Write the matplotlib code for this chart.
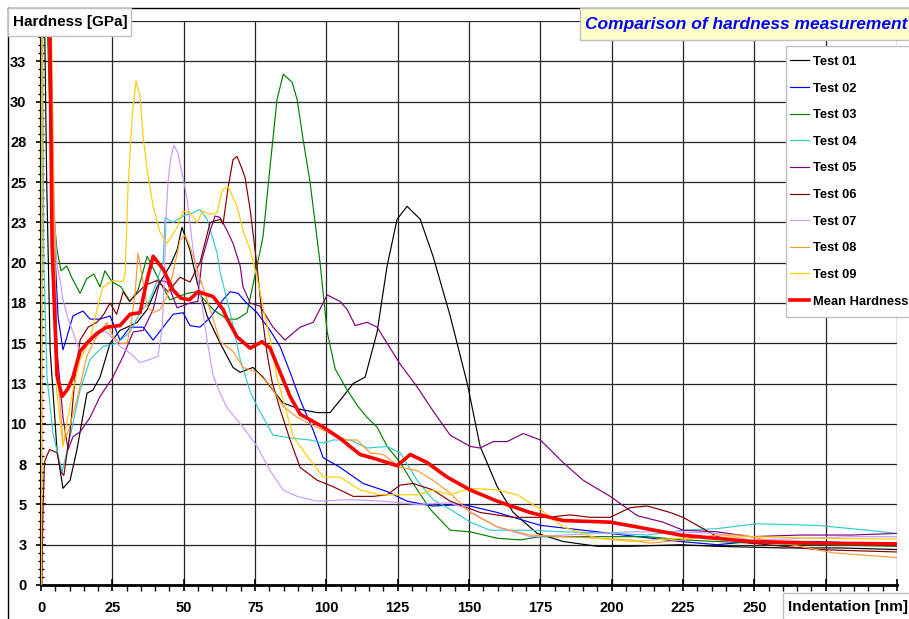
import matplotlib
matplotlib.use('Agg')
import matplotlib.pyplot as plt
from matplotlib.patches import Rectangle
from matplotlib.lines import Line2D
import numpy as np

plt.rcParams['font.family'] = ['Liberation Sans', 'DejaVu Sans']

# ---------------- data (indentation [nm], hardness [GPa]) ----------------
test01 = [(1.2, 36), (2.0, 25), (3.2, 14.6), (5.6, 8.4), (7.7, 6.0), (10.2, 6.5), (12.6, 8.4),
          (16.1, 11.9), (18.2, 12.1), (20.7, 12.9), (24.2, 15.0), (27.7, 15.8), (30.2, 16.0),
          (33.7, 16.3), (37.2, 17.1), (40.7, 18.5), (45.2, 19.8), (47.7, 20.8), (49.4, 22.2),
          (52.2, 20.8), (54.7, 18.8), (58.2, 16.7), (62.8, 15.0), (67.3, 13.5), (69.8, 13.2),
          (74.3, 13.5), (77.8, 12.9), (84.8, 11.3), (90.8, 10.9), (96.8, 10.7), (101.3, 10.7),
          (105.9, 11.7), (109.4, 12.5), (113.6, 12.9), (117.8, 15.7), (121.3, 19.8), (124.8, 22.7),
          (128.3, 23.5), (132.9, 22.7), (137.4, 20.4), (143.4, 16.7), (149.4, 12.5), (153.9, 8.6),
          (159.9, 6.1), (165.5, 4.5), (173.9, 3.2), (183, 2.7), (195, 2.4), (206.5, 2.4),
          (224, 2.5), (237, 2.4), (260, 2.3), (280, 2.3), (300, 2.2)]

test02 = [(3.0, 36), (4.5, 22), (6.0, 16.6), (7.7, 14.6), (9.1, 15.4), (11.2, 16.7), (14.7, 17.0),
          (17.2, 16.5), (20.7, 16.5), (24.2, 16.7), (27.7, 15.2), (31.2, 16.0), (35.8, 16.0),
          (39.3, 15.2), (42.8, 16.0), (46.3, 16.8), (49.8, 16.9), (52.2, 16.1), (55.7, 16.0),
          (59.3, 16.6), (63.8, 17.7), (66.3, 18.2), (69.1, 18.1), (71.5, 17.6), (75.7, 16.9),
          (80.3, 15.8), (83.8, 14.8), (87.3, 13.2), (90.8, 11.5), (95.4, 9.6), (98.9, 7.9),
          (104.8, 7.3), (112.9, 6.3), (121.3, 5.8), (128.3, 5.2), (137.4, 4.9), (148, 5.0),
          (159.9, 4.5), (175, 3.7), (195, 3.3), (209, 3.0), (224, 2.7), (237, 2.5), (248.6, 2.7),
          (272, 2.7), (300, 2.5)]

test03 = [(2.0, 36), (4.0, 24), (5.6, 20.8), (7.0, 19.5), (9.0, 19.8), (11.0, 19.0), (13.7, 18.1),
          (16.0, 19.0), (18.5, 19.3), (20.7, 18.5), (22.4, 19.5), (25.0, 18.8), (28.0, 18.5),
          (31.2, 17.6), (34.0, 18.3), (37.2, 20.4), (41.7, 18.8), (45.2, 17.7), (51.2, 18.1),
          (54.7, 18.2), (60.3, 17.1), (65.2, 16.5), (68.7, 16.5), (72.2, 16.9), (75.7, 19.8),
          (77.8, 21.6), (80.3, 26.0), (82.7, 30.1), (84.9, 31.7), (88.0, 31.2), (89.8, 30.1),
          (91.9, 27.6), (94.3, 25.0), (97.8, 20.0), (100.3, 15.7), (103.1, 13.4), (107.3, 12.1),
          (111.0, 11.1), (114.3, 10.4), (117.8, 9.8), (121.3, 8.6), (125.9, 7.6), (130.4, 6.3),
          (136.4, 4.7), (143.4, 3.4), (150.4, 3.3), (159.9, 2.9), (168, 2.8), (175, 3.0),
          (189, 3.0), (200.5, 3.0), (212.5, 3.0), (225, 2.8), (248.6, 2.6), (272, 2.5), (300, 2.4)]

test04 = [(0.5, 36), (1.0, 20), (2.1, 12.9), (4.2, 9.4), (7.4, 7.0), (10.2, 9.2), (13.7, 12.1),
          (17.2, 14.0), (21.7, 14.8), (26.6, 15.0), (31.2, 15.7), (34.7, 16.9), (38.2, 17.7),
          (40.7, 18.9), (42.8, 20.0), (43.5, 22.8), (46.3, 22.5), (49.8, 22.9), (53.3, 23.1),
          (55.7, 23.3), (58.2, 22.7), (61.7, 20.6), (62.8, 19.4), (66.3, 16.9), (69.8, 14.0),
          (73.3, 12.0), (75.7, 11.1), (81.3, 9.3), (88.4, 9.1), (94.3, 9.0), (98.9, 8.8),
          (102.4, 9.0), (108.3, 9.0), (114.3, 8.5), (121.3, 8.6), (125.9, 8.2), (131.8, 6.5),
          (137.4, 5.3), (143.4, 4.7), (150.4, 3.9), (157.4, 3.4), (171.4, 3.4), (183, 3.3),
          (200.5, 3.2), (212.5, 3.1), (225, 3.4), (237, 3.5), (251, 3.8), (272, 3.7),
          (289.6, 3.4), (300, 3.2)]

test05 = [(3.0, 36), (4.5, 22), (5.6, 14.6), (7.7, 10.4), (9.5, 8.4), (11.2, 9.2), (13.7, 9.5),
          (17.2, 10.4), (20.7, 11.7), (25.2, 12.9), (28.8, 14.2), (32.3, 15.7), (35.8, 15.8),
          (39.3, 17.1), (41.7, 18.9), (44.2, 18.8), (47.7, 17.2), (52.2, 17.5), (55.0, 17.6),
          (56.4, 20.2), (59.3, 22.0), (61.0, 22.9), (62.8, 22.8), (65.2, 22.0), (67.3, 21.2),
          (69.8, 19.8), (70.8, 18.5), (73.3, 17.5), (76.8, 17.3), (81.3, 16.0), (85.5, 15.2),
          (90.8, 16.0), (95.4, 16.3), (100.3, 18.0), (104.8, 17.6), (107.3, 17.1), (110.1, 16.1),
          (114.3, 16.3), (117.8, 16.0), (121.3, 15.0), (125.9, 13.7), (131.8, 12.3), (137.4, 10.8),
          (143.4, 9.3), (150.4, 8.6), (153.9, 8.5), (158.5, 8.9), (163.4, 8.9), (169, 9.4),
          (175, 9.0), (183, 7.6), (190, 6.5), (199.5, 5.5), (209, 4.3), (218, 3.9), (225, 3.4),
          (237, 3.3), (248.6, 3.0), (266, 3.1), (283.6, 3.1), (300, 3.2)]

test06 = [(0.3, 0), (0.6, 3.9), (1.2, 7.6), (2.0, 8.0), (3.0, 8.4), (4.5, 8.3), (5.6, 8.2),
          (7.0, 7.0), (8.0, 6.8), (10.2, 9.5), (12.0, 13.0), (13.7, 15.2), (16.5, 16.0),
          (19.6, 16.3), (22.0, 16.8), (24.2, 17.5), (26.5, 16.8), (28.8, 18.2), (31.0, 17.6),
          (33.7, 18.1), (36.5, 18.6), (40.7, 18.9), (44.5, 18.2), (48.7, 19.1), (52.2, 18.8),
          (55.7, 20.0), (59.3, 22.5), (62.8, 22.7), (63.8, 22.4), (65.6, 24.7), (67.3, 26.4),
          (68.7, 26.6), (70.5, 25.8), (71.5, 25.3), (73.3, 23.3), (75.7, 19.8), (77.5, 16.7),
          (79.2, 14.4), (81.0, 12.6), (83.8, 10.9), (87.3, 9.0), (90.8, 7.3), (96.8, 6.5),
          (102.4, 6.1), (109.4, 5.5), (116.4, 5.5), (121.3, 5.6), (125.9, 6.2), (130.4, 6.3),
          (137.4, 5.9), (143.4, 5.2), (153.9, 4.5), (165.5, 4.2), (177.4, 4.2), (185.5, 4.35),
          (192.5, 4.2), (199.5, 4.2), (206.5, 4.8), (212.5, 4.9), (220.5, 4.5), (225, 4.2),
          (237, 3.0), (248.6, 2.6), (272, 2.2), (300, 2.05)]

test07 = [(2.5, 36), (4.5, 24), (5.5, 20), (6.7, 18.9), (7.7, 17.7), (9.5, 16.5), (11.2, 15.7),
          (13.7, 14.4), (16.1, 14.8), (19.6, 15.7), (23.1, 15.7), (27.7, 14.8), (31.2, 14.4),
          (34.7, 13.8), (38.2, 14.0), (41.0, 14.2), (42.5, 16.0), (43.2, 19.0), (43.8, 22.7),
          (44.5, 25.0), (45.5, 26.5), (46.6, 27.3), (48.0, 26.8), (49.5, 25.5), (51.2, 24.0),
          (53.3, 20.8), (55.7, 18.3), (58.2, 15.2), (60.3, 13.0), (62.0, 12.2), (65.2, 11.0),
          (70.8, 9.8), (75.7, 8.6), (80.3, 7.1), (84.8, 5.9), (89.8, 5.5), (96.8, 5.2),
          (108.3, 5.3), (119.9, 5.2), (131.8, 5.0), (143.4, 5.1), (148, 4.8), (159.9, 3.6),
          (171.4, 3.0), (183, 3.1), (195, 3.2), (206.5, 3.3), (224, 3.3), (237, 3.2),
          (248.6, 2.8), (260, 2.85), (283.6, 3.0), (300, 3.0)]

test08 = [(0.2, 0), (0.4, 36), (3.5, 36), (5.5, 14), (7.7, 8.8), (9.5, 9.5), (12.6, 11.5),
          (16.1, 14.2), (18.2, 15.0), (20.7, 15.7), (23.1, 16.3), (25.2, 15.4), (27.7, 15.0),
          (30.2, 15.0), (31.8, 16.5), (33.0, 18.1), (34.0, 20.6), (35.8, 18.8), (37.2, 17.3),
          (39.3, 16.9), (41.7, 17.1), (44.2, 17.9), (46.3, 19.4), (48.7, 21.4), (50.5, 21.7),
          (52.2, 21.0), (54.7, 19.6), (58.2, 17.7), (62.8, 15.1), (67.3, 14.5), (70.8, 13.5),
          (75.7, 13.2), (80.3, 12.4), (84.8, 11.1), (89.8, 10.4), (95.4, 9.9), (101.3, 9.4),
          (107.3, 9.0), (110.8, 9.0), (115.3, 8.2), (119.9, 8.1), (125.9, 7.3), (131.8, 7.1),
          (137.4, 6.5), (143.4, 5.7), (150.4, 4.5), (159.9, 3.6), (171.4, 3.1), (183, 3.0),
          (195, 2.9), (206.5, 2.8), (213.5, 2.6), (225, 2.8), (237, 3.1), (246, 3.1),
          (254, 2.8), (266, 2.4), (277.5, 2.0), (300, 1.7)]

test09 = [(0.1, 0), (0.3, 36), (3.0, 36), (5.5, 12), (7.7, 8.6), (9.1, 10.1), (11.2, 12.1),
          (13.7, 14.0), (17.2, 15.2), (19.6, 17.1), (21.7, 18.5), (25.2, 18.9), (28.8, 18.8),
          (29.5, 19.4), (30.5, 24.7), (31.9, 28.9), (33.3, 31.3), (34.7, 30.3), (35.8, 27.8),
          (37.2, 25.8), (39.3, 23.5), (41.7, 21.9), (44.2, 21.2), (47.7, 22.2), (49.8, 23.2),
          (52.2, 23.1), (54.7, 22.5), (56.5, 23.2), (59.3, 23.0), (61.7, 23.1), (63.5, 24.5),
          (65.6, 24.7), (68.7, 23.5), (70.8, 22.0), (73.3, 20.8), (75.7, 19.1), (77.8, 17.3),
          (80.3, 15.2), (82.7, 12.9), (84.8, 11.5), (88.4, 9.2), (93.3, 8.0), (98.9, 6.7),
          (104.8, 6.7), (111.8, 5.9), (118.8, 5.6), (131.8, 5.6), (137.4, 5.9), (143.4, 5.6),
          (150.4, 6.0), (159.9, 5.9), (166.9, 5.6), (175, 4.7), (183, 3.6), (195, 2.9),
          (206.5, 2.7), (224, 2.9), (248.6, 3.0), (272, 2.9), (300, 2.85)]

mean_hardness = [(3.0, 36), (3.9, 21), (5.6, 13), (7.4, 11.7), (9.5, 12.2), (11.2, 12.9),
                 (13.7, 14.5), (16.0, 15.0), (19.5, 15.6), (23.0, 16.0), (27.7, 16.1), (31.2, 16.8),
                 (34.7, 16.9), (37.0, 18.8), (39.3, 20.4), (42.8, 19.6), (46.3, 18.3), (49.0, 17.8),
                 (52.0, 17.7), (55.0, 18.2), (60.3, 17.9), (63.8, 17.1), (65.0, 16.6), (68.7, 15.4),
                 (73.3, 14.7), (77.5, 15.1), (80.3, 14.7), (83.8, 13.2), (87.3, 11.7), (90.8, 10.6),
                 (98.9, 9.8), (104.8, 9.1), (111.8, 8.1), (117.8, 7.8), (124.8, 7.4), (129.4, 8.1),
                 (135.3, 7.6), (142.3, 6.7), (150.4, 5.9), (159.9, 5.2), (171.4, 4.5), (183, 4.0),
                 (199.5, 3.9), (209, 3.6), (224, 3.1), (248.6, 2.7), (272, 2.6), (300, 2.55)]

series_names = ["Test 01", "Test 02", "Test 03", "Test 04", "Test 05", "Test 06",
                "Test 07", "Test 08", "Test 09"]
series_data = [test01, test02, test03, test04, test05, test06, test07, test08, test09]
series_colors = ['#000000', '#0000FF', '#008000', '#33CCCC', '#800080', '#800000',
                 '#CC99FF', '#FF9933', '#FFCC00']

x_major = np.arange(0, 301, 25)
y_major = np.arange(0, 35.01, 2.5)

# ---------------- figure ----------------
W, H = 909, 619
fig = plt.figure(figsize=(W / 100, H / 100), dpi=100)
fig.patch.set_facecolor('white')

def fx(p):
    return p / W

def fy(p):
    return 1 - p / H

ax = fig.add_axes([fx(41), fy(585), fx(897) - fx(41), fy(21) - fy(585)])

handles = []
for name, pts, col in zip(series_names, series_data, series_colors):
    xs = [p[0] for p in pts]
    ys = [p[1] for p in pts]
    ln, = ax.plot(xs, ys, color=col, lw=0.85, label=name, zorder=3)
    handles.append(ln)
mx = [p[0] for p in mean_hardness]
my = [p[1] for p in mean_hardness]
ln, = ax.plot(mx, my, color='#FF0000', lw=2.6, label='Mean Hardness', zorder=4)
handles.append(ln)

ax.set_xlim(0, 300)
ax.set_ylim(0, 35)
ax.set_xticks(x_major)
ax.set_xticklabels([str(int(v)) if v <= 250 else '' for v in x_major])
ax.set_xticks(np.arange(0, 301, 5), minor=True)
ax.set_yticks(y_major)
ax.set_yticklabels([str(int(v + 0.5)) if v < 35 else '' for v in y_major])
ax.set_yticks(np.arange(0, 35.01, 0.5), minor=True)

ax.grid(True, which='major', color='#262626', lw=0.9, zorder=1)
ax.set_axisbelow(True)
for s in ['top', 'right']:
    ax.spines[s].set_visible(False)
ax.spines['bottom'].set_linewidth(2.0)
ax.spines['left'].set_linewidth(1.5)

ax.tick_params(axis='x', which='major', direction='inout', length=9, width=1.2, pad=7,
               labelsize=10.5)
ax.tick_params(axis='x', which='minor', direction='out', length=4, width=1.0)
ax.tick_params(axis='y', which='major', direction='inout', length=7, width=1.2, pad=7,
               labelsize=10.5)
ax.tick_params(axis='y', which='minor', direction='inout', length=4, width=1.0)
for lab in ax.get_xticklabels() + ax.get_yticklabels():
    lab.set_fontweight('bold')

# outer frame (top and left edges)
fig.add_artist(Line2D([fx(8), 1.0], [fy(8), fy(8)], color='black', lw=1.0,
                      transform=fig.transFigure, zorder=6))
fig.add_artist(Line2D([fx(8), fx(8)], [fy(8), 0.0], color='black', lw=1.0,
                      transform=fig.transFigure, zorder=6))

def box(x0, y0, x1, y1, fc, ec='#C0C0C0'):
    fig.add_artist(Rectangle((fx(x0), fy(y1)), fx(x1) - fx(x0), fy(y0) - fy(y1),
                             transform=fig.transFigure, facecolor=fc, edgecolor=ec,
                             lw=1.0, zorder=7))

# y-axis title box
box(8, 8, 131, 36, 'white')
fig.text(fx(13), fy(22), 'Hardness [GPa]', fontsize=11, fontweight='bold',
         ha='left', va='center', zorder=8)

# chart title box
box(580, 8, 912, 40, '#FFFFCC')
fig.text(fx(746), fy(24), 'Comparison of hardness measurement', fontsize=12.5,
         fontweight='bold', fontstyle='italic', color='#0000FF',
         ha='center', va='center', zorder=8)

# x-axis title box
box(783, 593, 912, 622, 'white')
fig.text(fx(788), fy(607), 'Indentation [nm]', fontsize=11, fontweight='bold',
         ha='left', va='center', zorder=8)

# legend (own frame box + frameless legend on top)
box(786, 46, 912, 317, 'white')
leg = fig.legend(handles=handles, labels=[h.get_label() for h in handles],
                 loc='upper left', bbox_to_anchor=(fx(786), fy(52)), borderaxespad=0,
                 prop={'size': 9.3, 'weight': 'bold'}, frameon=False,
                 handlelength=1.5, handletextpad=0.3, labelspacing=1.13,
                 borderpad=0.3)
leg.set_zorder(9)

fig.savefig('out.png', dpi=100)
